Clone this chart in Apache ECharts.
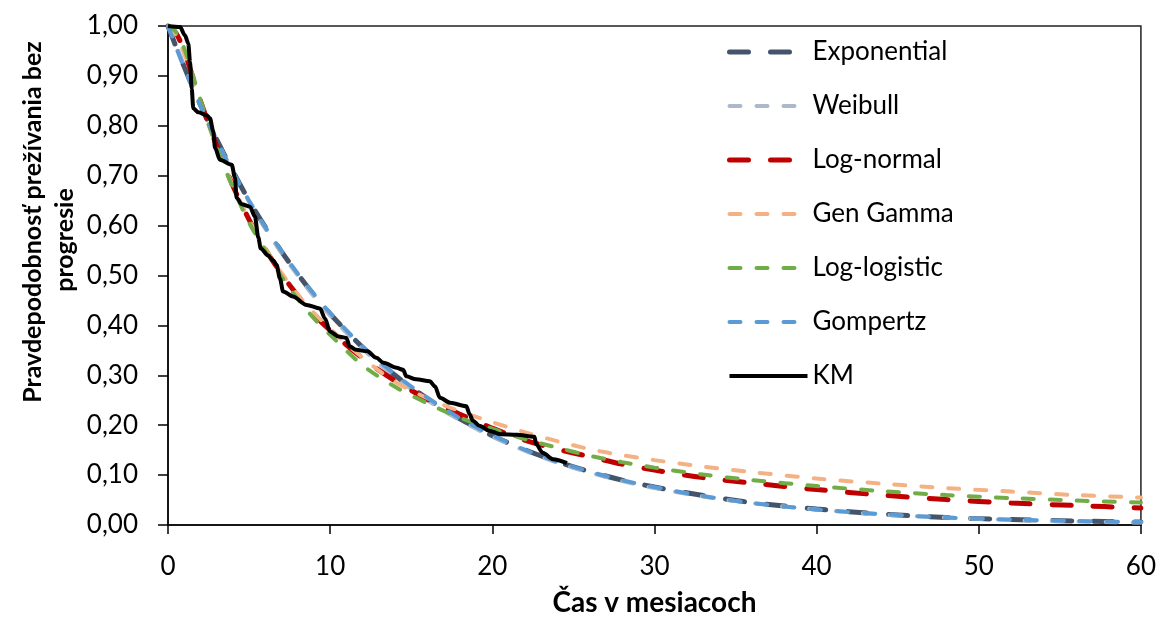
<!DOCTYPE html>
<html lang="sk">
<head>
    <meta charset="UTF-8">
    <title>PFS</title>
    <script src="https://cdn.jsdelivr.net/npm/echarts@6/dist/echarts.min.js"></script>
    <style>
        html, body { margin: 0; padding: 0; background: #fff; }
        #chart { width: 1159px; height: 622px; }
    </style>
</head>
<body>
<div id="chart"></div>
<script>
    // casova mriezka pre parametricke krivky (mesiace)
    var tGrid = [0, 0.5, 1, 1.5, 2, 3, 4, 5, 6, 7, 8, 9, 10, 12, 14, 16, 18, 20, 22, 24, 26, 28, 30, 33, 36, 40, 44, 48, 52, 56, 60];

    var exponential = [1.000, 0.958, 0.918, 0.879, 0.842, 0.773, 0.709, 0.650, 0.597, 0.548, 0.503, 0.461, 0.423, 0.356, 0.300, 0.253, 0.213, 0.179, 0.151, 0.127, 0.107, 0.090, 0.076, 0.059, 0.045, 0.032, 0.022, 0.015, 0.011, 0.008, 0.006];
    var weibull = [1.000, 0.962, 0.921, 0.881, 0.843, 0.772, 0.707, 0.648, 0.594, 0.545, 0.500, 0.458, 0.420, 0.353, 0.297, 0.250, 0.210, 0.177, 0.149, 0.125, 0.105, 0.088, 0.074, 0.057, 0.044, 0.031, 0.021, 0.015, 0.010, 0.007, 0.005];
    var logNormal = [1.000, 0.985, 0.950, 0.900, 0.850, 0.760, 0.680, 0.612, 0.553, 0.503, 0.460, 0.422, 0.390, 0.334, 0.289, 0.252, 0.222, 0.194, 0.170, 0.152, 0.137, 0.122, 0.110, 0.095, 0.084, 0.071, 0.060, 0.051, 0.044, 0.039, 0.034];
    var genGamma = [1.000, 0.982, 0.945, 0.897, 0.848, 0.758, 0.680, 0.612, 0.554, 0.505, 0.462, 0.425, 0.393, 0.335, 0.287, 0.254, 0.228, 0.206, 0.186, 0.168, 0.152, 0.140, 0.130, 0.117, 0.106, 0.093, 0.083, 0.074, 0.067, 0.060, 0.055];
    var logLogistic = [1.000, 0.988, 0.955, 0.905, 0.852, 0.758, 0.676, 0.606, 0.550, 0.498, 0.453, 0.414, 0.381, 0.320, 0.277, 0.244, 0.215, 0.193, 0.172, 0.155, 0.139, 0.126, 0.115, 0.101, 0.090, 0.078, 0.068, 0.060, 0.054, 0.049, 0.045];
    var gompertz = [1.000, 0.957, 0.916, 0.877, 0.840, 0.771, 0.708, 0.650, 0.597, 0.549, 0.504, 0.463, 0.425, 0.358, 0.302, 0.255, 0.214, 0.180, 0.151, 0.127, 0.107, 0.090, 0.076, 0.058, 0.044, 0.031, 0.022, 0.015, 0.011, 0.008, 0.006];

    // Kaplan-Meier
    var kmTime = [0, 0.74, 1.05, 1.25, 1.36, 1.46, 1.56, 1.87, 2.38, 2.59, 2.79, 2.90, 3.20, 3.93, 4.13, 4.23, 4.54, 5.05, 5.36, 5.57, 5.72, 6.18, 6.49, 6.70, 6.90, 7.10, 7.70, 8.55, 9.37, 9.68, 9.99, 10.5, 11.0, 11.2, 11.6, 12.3, 12.85, 13.3, 14.1, 14.5, 14.7, 15.3, 16.15, 16.46, 16.77, 17.4, 18.4, 18.6, 18.8, 19.2, 19.8, 20.5, 21.5, 22.6, 22.7, 23.1, 23.75, 24.6];
    var kmSurv = [1.000, 0.998, 0.981, 0.965, 0.928, 0.875, 0.835, 0.827, 0.821, 0.815, 0.789, 0.756, 0.732, 0.722, 0.696, 0.656, 0.643, 0.638, 0.618, 0.576, 0.554, 0.540, 0.530, 0.521, 0.494, 0.468, 0.458, 0.441, 0.434, 0.414, 0.388, 0.378, 0.375, 0.358, 0.351, 0.348, 0.335, 0.325, 0.315, 0.311, 0.298, 0.292, 0.288, 0.278, 0.255, 0.245, 0.238, 0.222, 0.209, 0.199, 0.189, 0.182, 0.181, 0.177, 0.162, 0.145, 0.132, 0.124];

    var xTicks = [0, 10, 20, 30, 40, 50, 60];
    var yTicks = [0, 0.1, 0.2, 0.3, 0.4, 0.5, 0.6, 0.7, 0.8, 0.9, 1.0];

    var FONT = 'Lato, "Open Sans", sans-serif';

    function pairs(xs, ys) {
        var out = [];
        for (var i = 0; i < xs.length; i++) out.push([xs[i], ys[i]]);
        return out;
    }

    function curve(name, values, color, width, dash) {
        return {
            name: name,
            type: 'line',
            data: pairs(tGrid, values),
            symbol: 'none',
            smooth: 0.3,
            lineStyle: { color: color, width: width, type: dash, cap: 'round' },
            itemStyle: { color: color },
            z: 2
        };
    }

    var myChart = echarts.init(document.getElementById('chart'));
    var option = {
        animation: false,
        backgroundColor: '#fff',
        grid: {
            left: 168, right: 18, top: 26, bottom: 94,
            show: true, borderColor: '#222', borderWidth: 1.5
        },
        legend: {
            orient: 'vertical',
            left: 722,
            top: 34,
            itemWidth: 78,
            itemHeight: 20,
            itemGap: 28,
            itemStyle: { opacity: 0 },
            lineStyle: { width: 'inherit', type: 'inherit', cap: 'inherit' },
            textStyle: { fontFamily: FONT, fontSize: 26, color: '#000' },
            data: ['Exponential', 'Weibull', 'Log-normal', 'Gen Gamma', 'Log-logistic', 'Gompertz', 'KM']
        },
        xAxis: {
            type: 'value',
            min: xTicks[0],
            max: xTicks[xTicks.length - 1],
            interval: 10,
            name: 'Čas v mesiacoch',
            nameLocation: 'middle',
            nameGap: 64,
            nameTextStyle: { fontFamily: FONT, fontSize: 28, fontWeight: 'bold', color: '#000' },
            axisLine: { lineStyle: { color: '#000', width: 1.5 } },
            axisTick: { show: true, inside: false, length: 9, lineStyle: { color: '#000', width: 1.5 } },
            axisLabel: { fontFamily: FONT, fontSize: 26, color: '#000', margin: 29 },
            splitLine: { show: false }
        },
        yAxis: {
            type: 'value',
            min: yTicks[0],
            max: yTicks[yTicks.length - 1],
            interval: 0.1,
            axisLine: { show: true, lineStyle: { color: '#000', width: 1.5 } },
            axisTick: { show: true, inside: false, length: 10, lineStyle: { color: '#000', width: 1.5 } },
            axisLabel: {
                fontFamily: FONT, fontSize: 26, color: '#000', margin: 30,
                formatter: function (v) { return v.toFixed(2).replace('.', ','); }
            },
            splitLine: { show: false }
        },
        graphic: [{
            type: 'text',
            x: 33,
            y: 222,
            rotation: Math.PI / 2,
            style: {
                text: 'Pravdepodobnosť prežívania bez',
                font: 'bold 25px ' + FONT,
                fill: '#000',
                align: 'center',
                verticalAlign: 'middle'
            }
        }, {
            type: 'text',
            x: 65,
            y: 240,
            rotation: Math.PI / 2,
            style: {
                text: 'progresie',
                font: 'bold 25px ' + FONT,
                fill: '#000',
                align: 'center',
                verticalAlign: 'middle'
            }
        }],
        series: [
            curve('Exponential', exponential, '#44546A', 5, [19, 22]),
            curve('Weibull', weibull, '#ADB9CA', 4, [11, 16]),
            curve('Log-normal', logNormal, '#C00000', 5, [19, 22]),
            curve('Gen Gamma', genGamma, '#F4B183', 4, [11, 16]),
            curve('Log-logistic', logLogistic, '#70AD47', 4, [11, 16]),
            curve('Gompertz', gompertz, '#5B9BD5', 4, [11, 16]),
            {
                name: 'KM',
                type: 'line',
                data: pairs(kmTime, kmSurv),
                symbol: 'none',
                smooth: 0.3,
                smoothMonotone: 'x',
                lineStyle: { color: '#000', width: 4, type: 'solid' },
                itemStyle: { color: '#000' },
                z: 3
            }
        ]
    };
    myChart.setOption(option);
</script>
</body>
</html>
